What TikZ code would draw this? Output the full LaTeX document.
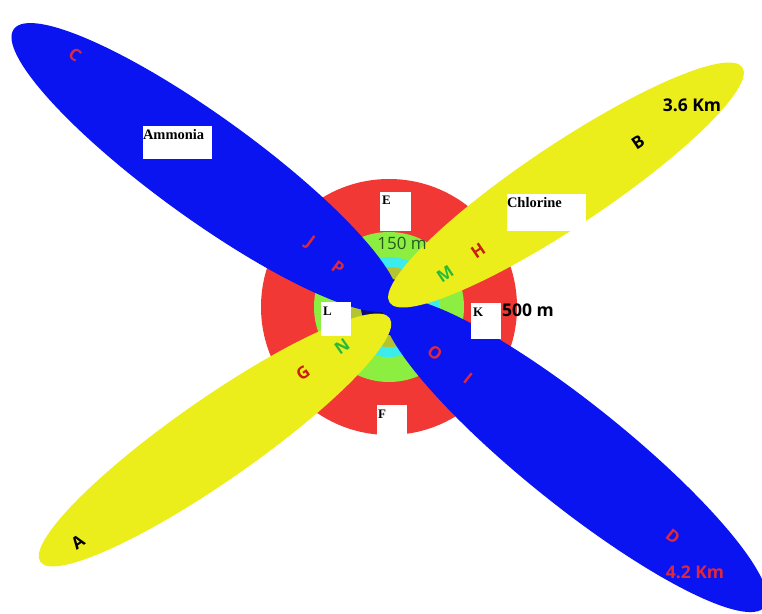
\documentclass[tikz,border=0pt]{standalone}
\usepackage{fontspec}
\setmainfont{Liberation Serif}
\setsansfont{Open Sans}
\usepackage{tikz}

\definecolor{plumeblue}{RGB}{10,20,240}
\definecolor{plumeyellow}{RGB}{236,238,28}
\definecolor{zonered}{RGB}{242,56,52}
\definecolor{zonegreen}{RGB}{140,238,64}
\definecolor{zonecyan}{RGB}{60,236,236}
\definecolor{zoneolive}{RGB}{180,196,48}
\definecolor{zonenavy}{RGB}{10,10,120}
\definecolor{txtred}{RGB}{222,40,60}
\definecolor{txtdark}{RGB}{200,30,20}
\definecolor{txtgreen}{RGB}{40,186,60}
\definecolor{txtolive}{RGB}{40,90,30}

\begin{document}
\begin{tikzpicture}[x=1pt,y=1pt,
    letter/.style={font=\sffamily\bfseries\fontsize{17}{17}\selectfont, inner sep=0pt},
    dist/.style={font=\sffamily\bfseries\fontsize{17.5}{17.5}\selectfont, inner sep=0pt},
    tag/.style={fill=white, inner sep=0pt},
    tagtext/.style={font=\bfseries\fontsize{13}{13}\selectfont, inner sep=0pt, anchor=north west},
    gastext/.style={font=\bfseries\fontsize{14.5}{14.5}\selectfont, inner sep=0pt, anchor=north west}]

      \useasboundingbox (0,0) rectangle (762,613);

      % zones round the source
      \coordinate (ctr) at (389,306);
      \fill[zonered]   (ctr) circle (128);
      \fill[zonegreen] (ctr) circle (75);
      \fill[zonecyan]  (ctr) circle (50);
      \fill[zoneolive] (ctr) circle (40);
      \fill[zonenavy]  (ctr) circle (28);

      % ammonia plumes
      \fill[plumeblue, rotate around={-35.9:(205,445.5)}] (205,445.5) ellipse (236 and 51);
      \fill[plumeblue, rotate around={-38.7:(575,158)}] (575,158) ellipse (243 and 51);

      % chlorine plumes
      \fill[plumeyellow, rotate around={33.7:(566,428)}] (566,428) ellipse (212 and 41);
      \fill[plumeyellow, rotate around={34.9:(215,173)}] (215,173) ellipse (213 and 41);

      % letters on the plumes
      \node[letter, txtred, rotate=-36] (lC) at (75,558) {C};
      \node[letter, txtred, rotate=-36] (lJ) at (310,370) {J};
      \node[letter, txtred, rotate=-36] (lP) at (338,345) {P};
      \node[letter, txtred, rotate=-38] (lO) at (435,260) {O};
      \node[letter, txtred, rotate=-38] (lI) at (468,235) {I};
      \node[letter, txtred, rotate=-38] (lD) at (673,76) {D};
      \node[letter, txtdark, rotate=34] (lH) at (478,362) {H};
      \node[letter, txtgreen, rotate=34] (lM) at (445,339) {M};
      \node[letter, txtgreen, rotate=35] (lN) at (342,266) {N};
      \node[letter, txtdark, rotate=35] (lG) at (303,240) {G};
      \node[letter, black, rotate=35] (lA) at (78,71) {A};
      \node[letter, black, rotate=34] (lB) at (638,471) {B};

      % distances
      \node[dist, black] (d36) at (692,508) {3.6 Km};
      \node[dist, txtred] (d42) at (695,41) {4.2 Km};
      \node[dist, black] (d500) at (528,303) {500 m};
      \node[font=\sffamily\fontsize{17}{17}\selectfont, inner sep=0pt, txtolive] (d150) at (402,370) {150 m};

      % gas labels
      \node[tag, minimum width=69, minimum height=33] (bAm) at (177.5,470.5) {};
      \node[gastext] (tAm) at ([shift={(0,-3)}]bAm.north west) {Ammonia};
      \node[tag, minimum width=79, minimum height=37] (bCl) at (546.5,400.5) {};
      \node[gastext] (tCl) at ([shift={(0,-3)}]bCl.north west) {Chlorine};

      % point labels
      \node[tag, minimum width=31, minimum height=39] (bE) at (395.5,401.5) {};
      \node[tagtext] (tE) at ([shift={(2,-4)}]bE.north west) {E};
      \node[tag, minimum width=30, minimum height=34] (bL) at (336,294) {};
      \node[tagtext] (tL) at ([shift={(2,-5)}]bL.north west) {L};
      \node[tag, minimum width=30, minimum height=36] (bK) at (486,292) {};
      \node[tagtext] (tK) at ([shift={(2,-5)}]bK.north west) {K};
      \node[tag, minimum width=30, minimum height=35] (bF) at (392,190.5) {};
      \node[tagtext] (tF) at ([shift={(1,-5)}]bF.north west) {F};

    \end{tikzpicture}
\end{document}
